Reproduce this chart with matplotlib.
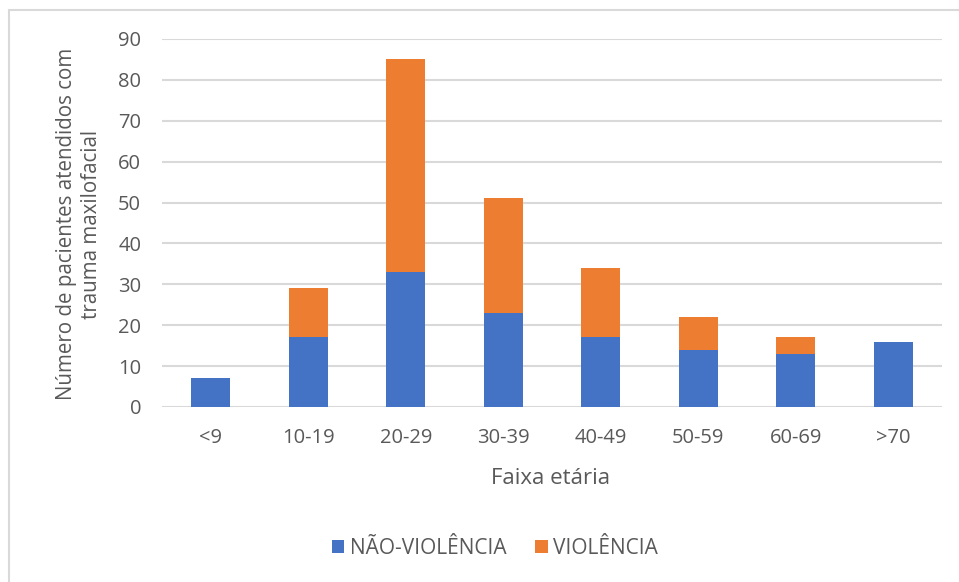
import matplotlib
matplotlib.use("Agg")
import matplotlib.pyplot as plt
from matplotlib.patches import Rectangle
import numpy as np

categories = ["<9", "10-19", "20-29", "30-39", "40-49", "50-59", "60-69", ">70"]
nao_violencia = [7, 17, 33, 23, 17, 14, 13, 16]
violencia = [0, 12, 52, 28, 17, 8, 4, 0]
yticks = [0, 10, 20, 30, 40, 50, 60, 70, 80, 90]

BLUE = "#4472C4"
ORANGE = "#ED7D31"
TEXT = "#595959"
GRID = "#D9D9D9"

plt.rcParams["font.family"] = ["Open Sans", "DejaVu Sans"]

W, H = 959, 582
fig = plt.figure(figsize=(W / 100, H / 100), dpi=100)

# outer chart frame
fig.patches.append(Rectangle((9 / W, -0.1), 1.2, 1 - 10 / H + 0.1,
                             transform=fig.transFigure, fill=False,
                             edgecolor="#D9D9D9", linewidth=1.5))

ax = fig.add_axes([162 / W, 1 - 407 / H, (942 - 162) / W, (407 - 39) / H])
x = np.arange(len(categories))
ax.bar(x, nao_violencia, width=0.40, color=BLUE, label="NÃO-VIOLÊNCIA", zorder=3)
ax.bar(x, violencia, width=0.40, bottom=nao_violencia, color=ORANGE,
       label="VIOLÊNCIA", zorder=3)

ax.set_xlim(-0.5, len(categories) - 0.5)
ax.set_ylim(0, 90)
ax.set_yticks(yticks)
ax.set_xticks(x)
ax.set_xticklabels(categories)
ax.yaxis.grid(True, color=GRID, linewidth=1.5, zorder=0)
ax.set_axisbelow(True)
for s in ax.spines.values():
    s.set_visible(False)
ax.tick_params(axis="both", length=0, labelsize=14.5, labelcolor=TEXT)
ax.tick_params(axis="y", pad=15)
ax.tick_params(axis="x", pad=15)

fig.text(79 / W, 1 - 224 / H, "Número de pacientes atendidos com\ntrauma maxilofacial",
         rotation=90, ha="center", va="center", fontsize=14.8, color=TEXT,
         linespacing=1.25)
fig.text(551 / W, 1 - 478 / H, "Faixa etária", ha="center", va="center",
         fontsize=16, color=TEXT)

leg = fig.legend(loc="center", bbox_to_anchor=(495 / W, 1 - 548 / H), ncol=2,
                 frameon=False, fontsize=15, handlelength=0.6, handleheight=0.6,
                 columnspacing=1.4, handletextpad=0.25)
for t in leg.get_texts():
    t.set_color(TEXT)

fig.savefig("out.png", dpi=100, facecolor="white")
